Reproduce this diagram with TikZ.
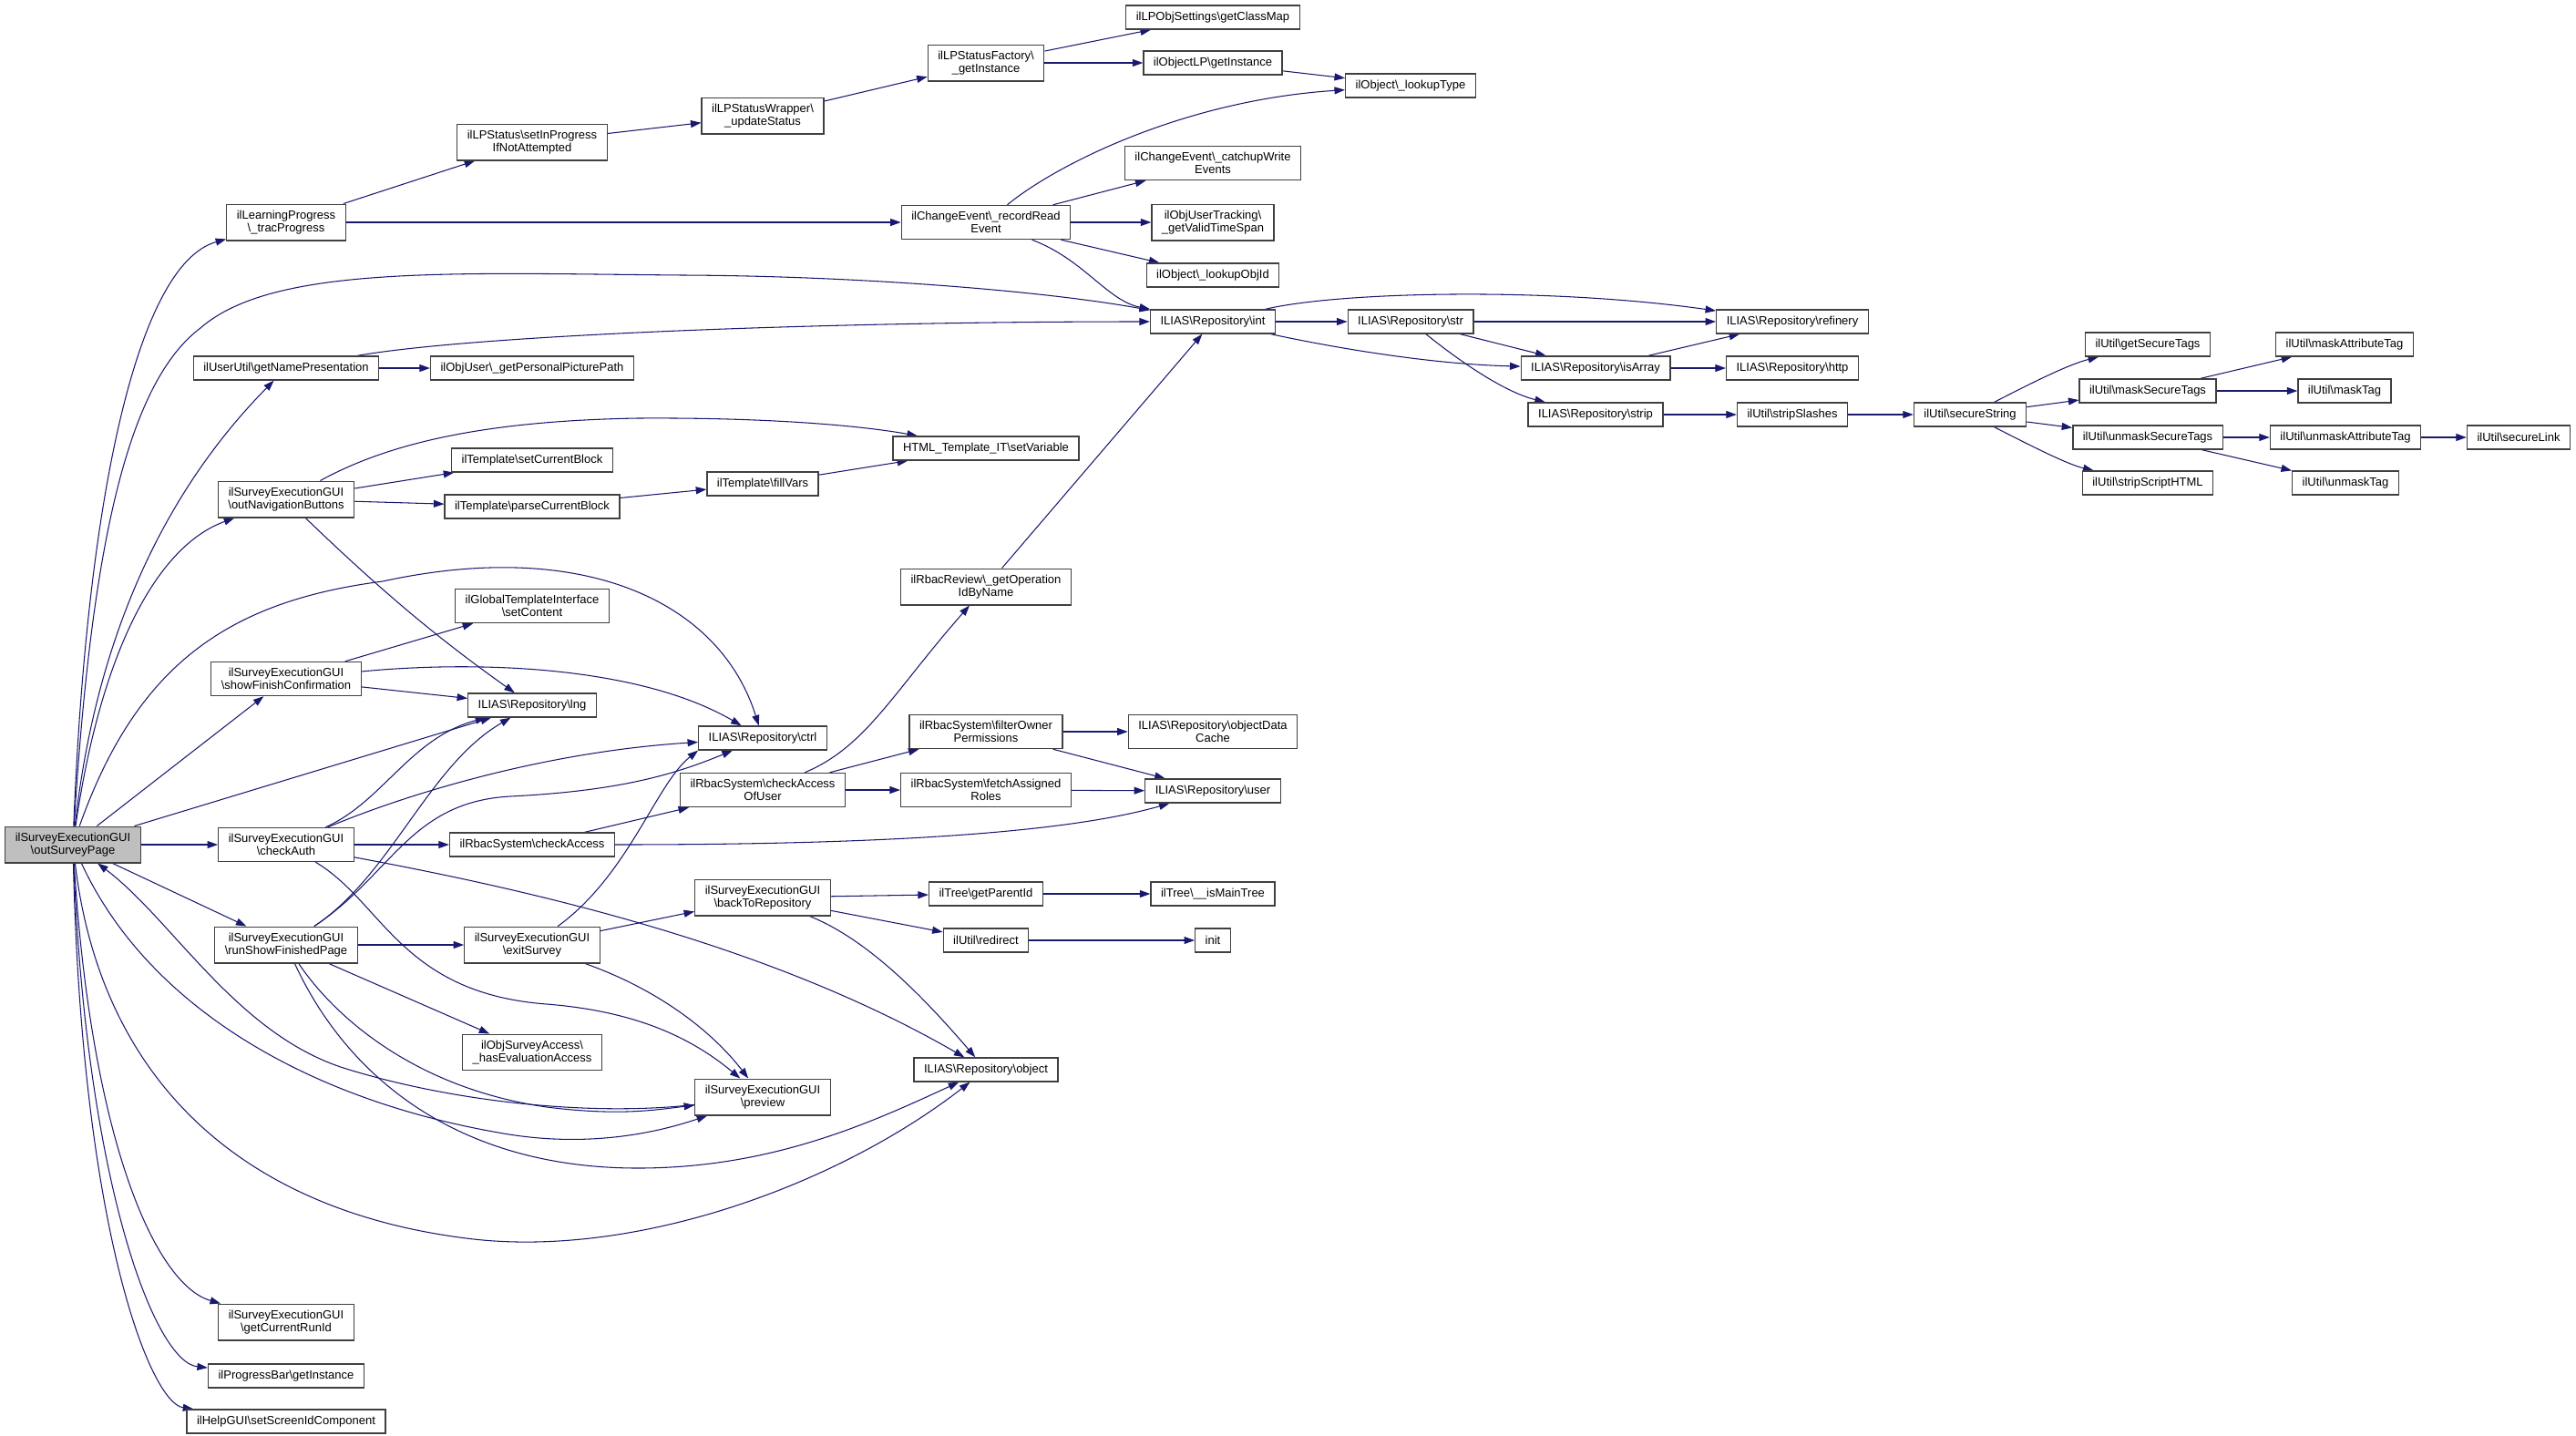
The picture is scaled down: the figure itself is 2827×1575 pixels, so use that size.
\documentclass[tikz,border=0pt]{standalone}
\usepackage{fontspec}
\setmainfont{Liberation Sans}
\usetikzlibrary{arrows.meta,backgrounds}
\definecolor{edgeblue}{RGB}{25,25,112}
\newcommand{\bsl}{\textbackslash}

\begin{document}
\begin{tikzpicture}[x=0.2mm,y=-0.2mm,
  fn/.style={draw=black!75,line width=0.75pt,fill=white,align=center,
    inner xsep=2.2mm,inner ysep=1.35mm,minimum height=5.2mm,
    font=\fontsize{7.4pt}{8pt}\selectfont},
  fnroot/.style={fn,fill=black!25},
  call/.style={draw=edgeblue,line width=0.6pt,-{Triangle[length=2.3mm,width=1.6mm]}}]
  \useasboundingbox (0,0) rectangle (2827,1575);

  %rod
	\node[fnroot] (root) at (80,927) {ilSurveyExecutionGUI\\\bsl outSurveyPage};

  %kolonne 1
	\node[fn] (trac) at (314,244) {ilLearningProgress\\\bsl\_tracProgress};
	\node[fn] (nameP) at (314,404) {ilUserUtil\bsl getNamePresentation};
	\node[fn] (navBtn) at (314,548) {ilSurveyExecutionGUI\\\bsl outNavigationButtons};
	\node[fn] (finConf) at (314,745) {ilSurveyExecutionGUI\\\bsl showFinishConfirmation};
	\node[fn] (chkAuth) at (314,927) {ilSurveyExecutionGUI\\\bsl checkAuth};
	\node[fn] (runFin) at (314,1037) {ilSurveyExecutionGUI\\\bsl runShowFinishedPage};
	\node[fn] (runId) at (314,1451) {ilSurveyExecutionGUI\\\bsl getCurrentRunId};
	\node[fn] (progBar) at (314,1510) {ilProgressBar\bsl getInstance};
	\node[fn] (helpGui) at (314,1560) {ilHelpGUI\bsl setScreenIdComponent};

  %kolonne 2
	\node[fn] (setInProg) at (584,156) {ilLPStatus\bsl setInProgress\\IfNotAttempted};
	\node[fn] (picPath) at (584,404) {ilObjUser\bsl\_getPersonalPicturePath};
	\node[fn] (setBlock) at (584,505) {ilTemplate\bsl setCurrentBlock};
	\node[fn] (parseBlock) at (584,556) {ilTemplate\bsl parseCurrentBlock};
	\node[fn] (setContent) at (584,665) {ilGlobalTemplateInterface\\\bsl setContent};
	\node[fn] (lng) at (584,774) {ILIAS\bsl Repository\bsl lng};
	\node[fn] (chkAccess) at (584,927) {ilRbacSystem\bsl checkAccess};
	\node[fn] (exitSurv) at (584,1037) {ilSurveyExecutionGUI\\\bsl exitSurvey};
	\node[fn] (evalAcc) at (584,1155) {ilObjSurveyAccess\bsl\\\_hasEvaluationAccess};

  %kolonne 3
	\node[fn] (wrapper) at (837,127) {ilLPStatusWrapper\bsl\\\_updateStatus};
	\node[fn] (fillVars) at (837,531) {ilTemplate\bsl fillVars};
	\node[fn] (ctrl) at (837,810) {ILIAS\bsl Repository\bsl ctrl};
	\node[fn] (chkAccUser) at (837,867) {ilRbacSystem\bsl checkAccess\\OfUser};
	\node[fn] (backRepo) at (837,985) {ilSurveyExecutionGUI\\\bsl backToRepository};
	\node[fn] (preview) at (837,1204) {ilSurveyExecutionGUI\\\bsl preview};

  %kolonne 4
	\node[fn] (factory) at (1082,69) {ilLPStatusFactory\bsl\\\_getInstance};
	\node[fn] (recRead) at (1082,244) {ilChangeEvent\bsl\_recordRead\\Event};
	\node[fn] (setVar) at (1082,492) {HTML\_Template\_IT\bsl setVariable};
	\node[fn] (opId) at (1082,644) {ilRbacReview\bsl\_getOperation\\IdByName};
	\node[fn] (filterOwn) at (1082,803) {ilRbacSystem\bsl filterOwner\\Permissions};
	\node[fn] (fetchRoles) at (1082,867) {ilRbacSystem\bsl fetchAssigned\\Roles};
	\node[fn] (parentId) at (1082,981) {ilTree\bsl getParentId};
	\node[fn] (redirect) at (1082,1032) {ilUtil\bsl redirect};
	\node[fn] (object) at (1082,1174) {ILIAS\bsl Repository\bsl object};

  %kolonne 5
	\node[fn] (classMap) at (1331,19) {ilLPObjSettings\bsl getClassMap};
	\node[fn] (objLP) at (1331,69) {ilObjectLP\bsl getInstance};
	\node[fn] (catchup) at (1331,179) {ilChangeEvent\bsl\_catchupWrite\\Events};
	\node[fn] (timeSpan) at (1331,244) {ilObjUserTracking\bsl\\\_getValidTimeSpan};
	\node[fn] (lookObjId) at (1331,302) {ilObject\bsl\_lookupObjId};
	\node[fn] (int) at (1331,353) {ILIAS\bsl Repository\bsl int};
	\node[fn] (objCache) at (1331,803) {ILIAS\bsl Repository\bsl objectData\\Cache};
	\node[fn] (user) at (1331,868) {ILIAS\bsl Repository\bsl user};
	\node[fn] (mainTree) at (1331,981) {ilTree\bsl\_\_isMainTree};
	\node[fn] (init) at (1331,1032) {init};

  %kolonne 6-8
	\node[fn] (lookType) at (1548,94) {ilObject\bsl\_lookupType};
	\node[fn] (str) at (1548,353) {ILIAS\bsl Repository\bsl str};
	\node[fn] (isArray) at (1751,404) {ILIAS\bsl Repository\bsl isArray};
	\node[fn] (strip) at (1751,455) {ILIAS\bsl Repository\bsl strip};
	\node[fn] (refinery) at (1967,353) {ILIAS\bsl Repository\bsl refinery};
	\node[fn] (http) at (1967,404) {ILIAS\bsl Repository\bsl http};
	\node[fn] (stripSl) at (1967,455) {ilUtil\bsl stripSlashes};

  %ilUtil
	\node[fn] (secStr) at (2162,455) {ilUtil\bsl secureString};
	\node[fn] (secTags) at (2357,378) {ilUtil\bsl getSecureTags};
	\node[fn] (maskSec) at (2357,429) {ilUtil\bsl maskSecureTags};
	\node[fn] (unmaskSec) at (2357,480) {ilUtil\bsl unmaskSecureTags};
	\node[fn] (stripScr) at (2357,530) {ilUtil\bsl stripScriptHTML};
	\node[fn] (maskAttr) at (2573,378) {ilUtil\bsl maskAttributeTag};
	\node[fn] (maskTag) at (2573,429) {ilUtil\bsl maskTag};
	\node[fn] (unmaskAttr) at (2574,480) {ilUtil\bsl unmaskAttributeTag};
	\node[fn] (unmaskTag) at (2574,530) {ilUtil\bsl unmaskTag};
	\node[fn] (secLink) at (2764,480) {ilUtil\bsl secureLink};

  \begin{scope}[on background layer]
  %kald fra rod
	\draw[call] (root) .. controls (95,550) and (150,290) .. (trac);
	\draw[call] (root) .. controls (100,600) and (140,420) .. (220,360) .. controls (300,290) and (500,300) .. (750,302) .. controls (950,303) and (1150,320) .. (int);
	\draw[call] (root) .. controls (105,700) and (180,540) .. (nameP);
	\draw[call] (root) .. controls (110,720) and (170,600) .. (navBtn);
	\draw[call] (root) .. controls (150,730) and (250,660) .. (420,638) .. controls (640,590) and (790,660) .. (ctrl);
	\draw[call] (root) -- (finConf);
	\draw[call] (root) -- (lng);
	\draw[call] (root) -- (chkAuth);
	\draw[call] (root) -- (runFin);
	\draw[call] (root) .. controls (160,1100) and (330,1205) .. (547,1243) .. controls (650,1262) and (730,1240) .. (preview);
	\draw[call] (root) .. controls (110,1180) and (260,1330) .. (520,1360) .. controls (700,1380) and (920,1300) .. (object);
	\draw[call] (root) .. controls (100,1250) and (170,1410) .. (runId);
	\draw[call] (root) .. controls (95,1300) and (170,1495) .. (progBar);
	\draw[call] (root) .. controls (90,1350) and (165,1540) .. (helpGui);
	\draw[call] (preview) .. controls (650,1225) and (500,1210) .. (380,1173) .. controls (260,1136) and (190,1010) .. (root);

  %laeringsforloeb
	\draw[call] (trac) -- (setInProg);
	\draw[call] (trac) -- (recRead);
	\draw[call] (setInProg) -- (wrapper);
	\draw[call] (wrapper) -- (factory);
	\draw[call] (factory) -- (classMap);
	\draw[call] (factory) -- (objLP);
	\draw[call] (objLP) -- (lookType);
	\draw[call] (recRead) .. controls (1160,180) and (1300,110) .. (lookType);
	\draw[call] (recRead) -- (catchup);
	\draw[call] (recRead) -- (timeSpan);
	\draw[call] (recRead) -- (lookObjId);
	\draw[call] (recRead) .. controls (1190,285) and (1215,330) .. (int);

  %brugernavn og skabelon
	\draw[call] (nameP) -- (picPath);
	\draw[call] (nameP) .. controls (520,368) and (900,353) .. (int);
	\draw[call] (navBtn) .. controls (420,490) and (520,462) .. (700,459) .. controls (850,458) and (950,468) .. (setVar);
	\draw[call] (navBtn) -- (setBlock);
	\draw[call] (navBtn) -- (parseBlock);
	\draw[call] (navBtn) .. controls (420,650) and (480,700) .. (lng);
	\draw[call] (parseBlock) -- (fillVars);
	\draw[call] (fillVars) -- (setVar);
	\draw[call] (finConf) -- (setContent);
	\draw[call] (finConf) .. controls (520,725) and (700,730) .. (ctrl);
	\draw[call] (finConf) -- (lng);

  %adgangskontrol
	\draw[call] (chkAuth) -- (chkAccess);
	\draw[call] (chkAuth) .. controls (420,880) and (450,810) .. (lng);
	\draw[call] (chkAuth) .. controls (450,870) and (600,825) .. (ctrl);
	\draw[call] (chkAuth) .. controls (600,980) and (850,1040) .. (object);
	\draw[call] (chkAuth) .. controls (420,990) and (440,1090) .. (600,1102) .. controls (700,1110) and (760,1140) .. (preview);
	\draw[call] (chkAccess) -- (chkAccUser);
	\draw[call] (chkAccess) .. controls (900,927) and (1150,920) .. (user);
	\draw[call] (chkAccUser) .. controls (950,820) and (980,760) .. (opId);
	\draw[call] (chkAccUser) -- (filterOwn);
	\draw[call] (chkAccUser) -- (fetchRoles);
	\draw[call] (opId) -- (int);
	\draw[call] (filterOwn) -- (objCache);
	\draw[call] (filterOwn) -- (user);
	\draw[call] (fetchRoles) -- (user);

  %afslutning
	\draw[call] (runFin) -- (exitSurv);
	\draw[call] (runFin) -- (evalAcc);
	\draw[call] (runFin) .. controls (430,960) and (470,840) .. (lng);
	\draw[call] (runFin) .. controls (430,960) and (450,880) .. (560,874) .. controls (680,868) and (740,850) .. (ctrl);
	\draw[call] (runFin) .. controls (370,1120) and (460,1195) .. (600,1215) .. controls (680,1225) and (720,1218) .. (preview);
	\draw[call] (runFin) .. controls (380,1180) and (500,1282) .. (700,1282) .. controls (850,1282) and (960,1230) .. (object);
	\draw[call] (exitSurv) -- (backRepo);
	\draw[call] (exitSurv) .. controls (720,1085) and (780,1130) .. (preview);
	\draw[call] (exitSurv) .. controls (690,960) and (720,860) .. (ctrl.south west);
	\draw[call] (backRepo) -- (parentId);
	\draw[call] (backRepo) -- (redirect);
	\draw[call] (backRepo) .. controls (950,1030) and (1010,1090) .. (object);
	\draw[call] (parentId) -- (mainTree);
	\draw[call] (redirect) -- (init);

  %repository
	\draw[call] (int) -- (str);
	\draw[call] (int) .. controls (1470,320) and (1700,315) .. (refinery);
	\draw[call] (int) .. controls (1480,385) and (1580,400) .. (isArray);
	\draw[call] (str) -- (refinery);
	\draw[call] (str) -- (isArray);
	\draw[call] (str) .. controls (1600,395) and (1650,430) .. (strip);
	\draw[call] (isArray) -- (refinery);
	\draw[call] (isArray) -- (http);
	\draw[call] (strip) -- (stripSl);
	\draw[call] (stripSl) -- (secStr);

  %ilUtil
	\draw[call] (secStr) .. controls (2230,420) and (2270,400) .. (secTags);
	\draw[call] (secStr) -- (maskSec);
	\draw[call] (secStr) -- (unmaskSec);
	\draw[call] (secStr) .. controls (2230,490) and (2270,510) .. (stripScr);
	\draw[call] (maskSec) -- (maskAttr);
	\draw[call] (maskSec) -- (maskTag);
	\draw[call] (unmaskSec) -- (unmaskAttr);
	\draw[call] (unmaskSec) -- (unmaskTag);
	\draw[call] (unmaskAttr) -- (secLink);
  \end{scope}
\end{tikzpicture}
\end{document}
